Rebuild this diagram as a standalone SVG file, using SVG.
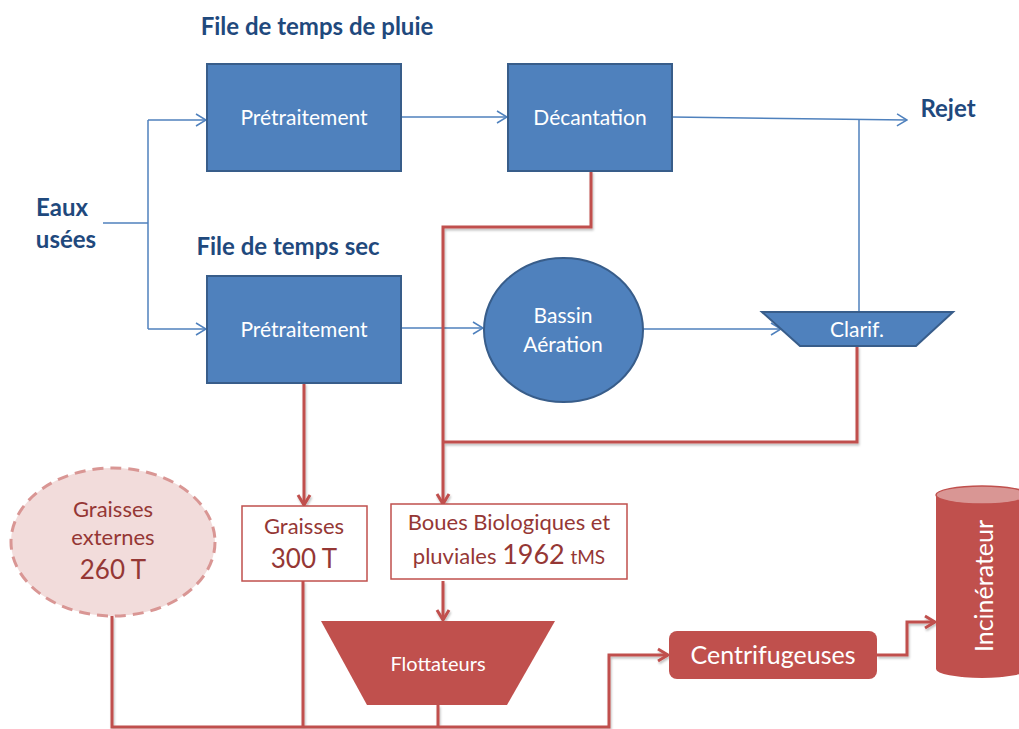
<svg xmlns="http://www.w3.org/2000/svg" width="1019" height="729" viewBox="0 0 1019 729">
  <defs>
    <style>
      text { font-family: Lato, "Open Sans", "Liberation Sans", sans-serif; text-anchor: middle; }
      .title { font-weight: bold; font-size: 24px; fill: #1F497D; }
      .wt { fill: #FFFFFF; }
      .rt { fill: #953735; }
      .bluebox { fill: #4F81BD; stroke: #385D8A; stroke-width: 2; }
      .redline { fill: none; stroke: #C0504D; stroke-width: 3; }
      .blueline { fill: none; stroke: #4F81BD; stroke-width: 1.5; }
      .outbox { fill: #FFFFFF; stroke: #C0504D; stroke-width: 1.5; }
    </style>
    <marker id="arrB" viewBox="0 0 12 14" refX="11" refY="7" markerWidth="12" markerHeight="14" markerUnits="userSpaceOnUse" orient="auto">
      <path d="M1,1 L11,7 L1,13" fill="none" stroke="#4F81BD" stroke-width="1.5"/>
    </marker>
    <marker id="arrR" viewBox="0 0 14 16" refX="12" refY="8" markerWidth="14" markerHeight="16" markerUnits="userSpaceOnUse" orient="auto">
      <path d="M2,2 L12,8 L2,14" fill="none" stroke="#C0504D" stroke-width="3"/>
    </marker>
    <filter id="sh" x="-5%" y="-5%" width="110%" height="110%">
      <feDropShadow dx="1" dy="2" stdDeviation="1" flood-color="#000" flood-opacity="0.25"/>
    </filter>
  </defs>

  <!-- headings -->
  <text class="title" x="317" y="35">File de temps de pluie</text>
  <text class="title" x="288" y="255">File de temps sec</text>
  <g id="eaux-usees">
    <text class="title" x="62" y="216">Eaux</text>
    <text class="title" x="66" y="248">usées</text>
  </g>
  <g id="rejet">
    <text class="title" x="948" y="117">Rejet</text>
  </g>

  <!-- connectors -->
  <g id="connectors">
    <!-- water line (blue) -->
    <path class="blueline" d="M103,223 H148"/>
    <path class="blueline" d="M148,120 V329"/>
    <path class="blueline" d="M148,120 H206" marker-end="url(#arrB)"/>
    <path class="blueline" d="M148,329 H206" marker-end="url(#arrB)"/>
    <path class="blueline" d="M401,117 H507" marker-end="url(#arrB)"/>
    <path class="blueline" d="M401,328 H483" marker-end="url(#arrB)"/>
    <path class="blueline" d="M643,329 H781" marker-end="url(#arrB)"/>
    <path class="blueline" d="M672,117 L907,120" marker-end="url(#arrB)"/>
    <path class="blueline" d="M859,312 V119.5"/>

    <!-- sludge line (red) -->
    <g filter="url(#sh)">
      <path class="redline" d="M591,171 V227 H443 V504" marker-end="url(#arrR)"/>
      <path class="redline" d="M857,346 V442 H443"/>
      <path class="redline" d="M304,383 V505" marker-end="url(#arrR)"/>
      <path class="redline" d="M443,581 V620" marker-end="url(#arrR)"/>
      <path class="redline" d="M112,616 V727 H609 V655 H668" marker-end="url(#arrR)"/>
      <path class="redline" d="M303,581 V727"/>
      <path class="redline" d="M438,705 V727"/>
      <path class="redline" d="M877,655 H907 V622 H935" marker-end="url(#arrR)"/>
    </g>
  </g>

  <!-- nodes -->
  <g id="pretraitement-pluie">
    <rect class="bluebox" x="207" y="64" width="194" height="107"/>
    <text class="wt" x="304" y="125" font-size="21">Prétraitement</text>
  </g>
  <g id="decantation">
    <rect class="bluebox" x="508" y="64" width="164" height="107"/>
    <text class="wt" x="590" y="125" font-size="21">Décantation</text>
  </g>
  <g id="pretraitement-sec">
    <rect class="bluebox" x="207" y="276" width="194" height="107"/>
    <text class="wt" x="304" y="337" font-size="21">Prétraitement</text>
  </g>
  <g id="bassin-aeration">
    <ellipse class="bluebox" cx="563.5" cy="330" rx="79.5" ry="72"/>
    <text class="wt" x="563" y="323" font-size="21">Bassin</text>
    <text class="wt" x="563" y="352" font-size="21">Aération</text>
  </g>
  <g id="clarificateur">
    <polygon class="bluebox" points="762,312 953,312 916,346 800,346"/>
    <text class="wt" x="857" y="337" font-size="21">Clarif.</text>
  </g>

  <g id="graisses-externes">
    <ellipse cx="113" cy="542" rx="102" ry="74" fill="#F2DCDB" stroke="#D99694" stroke-width="3" stroke-dasharray="11,7"/>
    <text class="rt" x="113" y="517" font-size="22">Graisses</text>
    <text class="rt" x="113" y="545" font-size="22">externes</text>
    <text class="rt" x="113" y="579" font-size="26">260 T</text>
  </g>
  <g id="graisses">
    <rect class="outbox" x="242" y="506" width="125" height="75"/>
    <text class="rt" x="304" y="534" font-size="22">Graisses</text>
    <text class="rt" x="304" y="568" font-size="26">300 T</text>
  </g>
  <g id="boues">
    <rect class="outbox" x="391" y="504" width="236" height="75"/>
    <text class="rt" x="509" y="530" font-size="22">Boues Biologiques et</text>
    <text class="rt" x="509" y="564" font-size="22">pluviales <tspan font-size="27">1962</tspan> <tspan font-size="19">tMS</tspan></text>
  </g>
  <g id="flottateurs">
    <polygon points="321,621 555,621 507,705 367,705" fill="#C0504D"/>
    <text class="wt" x="438" y="671" font-size="20">Flottateurs</text>
  </g>
  <g id="centrifugeuses">
    <rect x="669" y="631" width="208" height="48" rx="8" fill="#C0504D"/>
    <text class="wt" x="773" y="664" font-size="25">Centrifugeuses</text>
  </g>
  <g id="incinerateur">
    <path d="M936,495 V669 A46,9 0 0 0 1028,669 V495 Z" fill="#C0504D"/>
    <ellipse cx="982" cy="495" rx="46" ry="9" fill="#D99694" stroke="#C0504D" stroke-width="1.5"/>
    <text class="wt" x="0" y="0" font-size="25" transform="translate(993,586) rotate(-90)">Incinérateur</text>
  </g>
</svg>
